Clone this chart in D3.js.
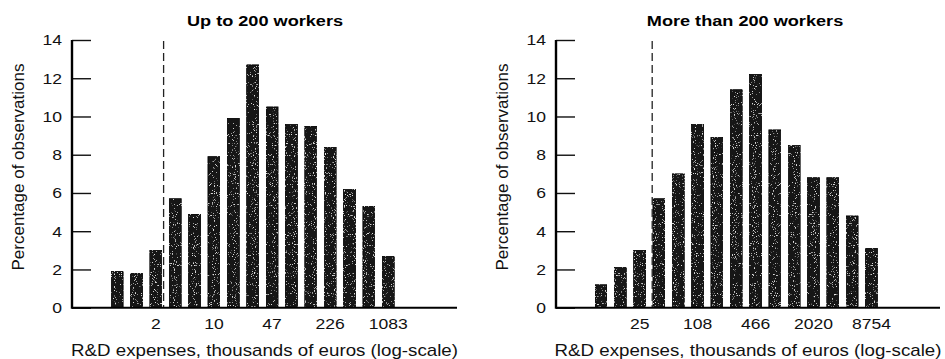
<!DOCTYPE html>
<html>
<head>
<meta charset="utf-8">
<script src="https://cdn.jsdelivr.net/npm/d3@7"></script>
<style>
  html, body { margin: 0; padding: 0; background: #fff; }
  svg { display: block; font-family: "Liberation Sans", Arial, Helvetica, sans-serif; }
</style>
</head>
<body>
<svg id="chart" width="945" height="359"></svg>
<script>
// Share of firms in each log-spaced R&D expense bin (percent of observations)
const panelTitles = ["Up to 200 workers", "More than 200 workers"];
const smallFirmShares = [1.9, 1.8, 3.0, 5.7, 4.9, 7.9, 9.9, 12.7, 10.5, 9.6, 9.5, 8.4, 6.2, 5.3, 2.7];
const largeFirmShares = [1.2, 2.1, 3.0, 5.7, 7.0, 9.6, 8.9, 11.4, 12.2, 9.3, 8.5, 6.8, 6.8, 4.8, 3.1];
// Tick labels (thousands of euros) and the bin each one sits under
const smallFirmTickLabels = ["2", "10", "47", "226", "1083"];
const largeFirmTickLabels = ["25", "108", "466", "2020", "8754"];
const tickBins = [2, 5, 8, 11, 14];
// Threshold marker, expressed in bin units
const smallFirmThreshold = 2.4;
const largeFirmThreshold = 2.65;
const yTicks = [0, 2, 4, 6, 8, 10, 12, 14];

const svg = d3.select("#chart");
const WIDE = 1.17; // horizontal text is set slightly expanded

// Speckled ink texture for the bars
const defs = svg.append("defs");
const grain = defs.append("filter").attr("id", "grain")
  .attr("x", 0).attr("y", 0).attr("width", 1).attr("height", 1);
grain.append("feTurbulence").attr("type", "fractalNoise")
  .attr("baseFrequency", 0.9).attr("numOctaves", 1).attr("seed", 7).attr("result", "noise");
grain.append("feColorMatrix").attr("in", "noise").attr("type", "matrix")
  .attr("values", "0 0 0 0 0.75  0 0 0 0 0.75  0 0 0 0 0.75  9 0 0 0 -5.6")
  .attr("result", "dots");
grain.append("feComposite").attr("in", "dots").attr("in2", "SourceGraphic")
  .attr("operator", "in").attr("result", "speckle");
const merge = grain.append("feMerge");
merge.append("feMergeNode").attr("in", "SourceGraphic");
merge.append("feMergeNode").attr("in", "speckle");

const panels = [
  { title: panelTitles[0], values: smallFirmShares, ticks: smallFirmTickLabels,
    threshold: smallFirmThreshold, left: 72, right: 457, titleX: 265 },
  { title: panelTitles[1], values: largeFirmShares, ticks: largeFirmTickLabels,
    threshold: largeFirmThreshold, left: 556, right: 940, titleX: 745 }
];

const plotTop = 40, plotBottom = 307.7;
const y = d3.scaleLinear().domain([0, 14]).range([plotBottom, plotTop]);

// horizontal text, drawn at (x, y) with the expanded set width
function wideText(sel, x, yPos) {
  return sel.attr("transform", `translate(${x},${yPos}) scale(${WIDE},1)`);
}

panels.forEach(p => {
  const g = svg.append("g");
  const n = p.values.length;
  // bins are laid out on a linear scale of bin index, with empty room on both sides
  const x = d3.scaleLinear().domain([-2.33, n - 1 + 3.55]).range([p.left, p.right]);
  const step = x(1) - x(0);
  const barW = step * 0.62;

  // bars
  g.selectAll("rect.bar").data(p.values).join("rect")
    .attr("class", "bar")
    .attr("x", (d, i) => x(i) - barW / 2)
    .attr("width", barW)
    .attr("y", d => y(d))
    .attr("height", d => y(0) - y(d))
    .attr("fill", "#181818")
    .attr("stroke", "#000")
    .attr("stroke-width", 0.8)
    .attr("filter", "url(#grain)");

  // threshold line
  g.append("line")
    .attr("x1", x(p.threshold)).attr("x2", x(p.threshold))
    .attr("y1", y(14) + 1).attr("y2", y(0))
    .attr("stroke", "#222").attr("stroke-width", 1.3)
    .attr("stroke-dasharray", "8,4");

  // y axis with inward ticks
  const yAxis = d3.axisRight(y).tickValues(yTicks).tickSize(19).tickFormat("");
  const ya = g.append("g").attr("transform", `translate(${p.left},0)`).call(yAxis);
  ya.select(".domain").remove();
  ya.selectAll(".tick line").attr("stroke", "#111").attr("stroke-width", 1.4);
  g.append("line").attr("x1", p.left).attr("x2", p.left)
    .attr("y1", y(14)).attr("y2", y(0) + 1)
    .attr("stroke", "#000").attr("stroke-width", 2.4);
  g.selectAll("text.ytick").data(yTicks).join("text")
    .attr("class", "ytick")
    .each(function (d) { wideText(d3.select(this), p.left - 10, y(d)); })
    .attr("dy", "0.36em")
    .attr("text-anchor", "end")
    .attr("font-size", 15)
    .attr("fill", "#111")
    .text(d => d);

  // x axis baseline and labels
  g.append("line").attr("x1", p.left).attr("x2", p.right)
    .attr("y1", y(0)).attr("y2", y(0))
    .attr("stroke", "#000").attr("stroke-width", 2);
  g.selectAll("text.xtick").data(p.ticks).join("text")
    .attr("class", "xtick")
    .each(function (d, i) { wideText(d3.select(this), x(tickBins[i]), 329); })
    .attr("text-anchor", "middle")
    .attr("font-size", 15)
    .attr("fill", "#111")
    .text(d => d);

  wideText(g.append("text"), (p.left + p.right) / 2, 356)
    .attr("text-anchor", "middle")
    .attr("font-size", 16)
    .attr("fill", "#111")
    .text("R&D expenses, thousands of euros (log-scale)");

  g.append("text")
    .attr("transform", `translate(${p.left - 48},167) rotate(-90)`)
    .attr("text-anchor", "middle")
    .attr("font-size", 17)
    .attr("fill", "#111")
    .text("Percentage of observations");

  wideText(g.append("text"), p.titleX, 26)
    .attr("text-anchor", "middle")
    .attr("font-size", 15.5)
    .attr("font-weight", "bold")
    .attr("fill", "#000")
    .text(p.title);
});
</script>
</body>
</html>
